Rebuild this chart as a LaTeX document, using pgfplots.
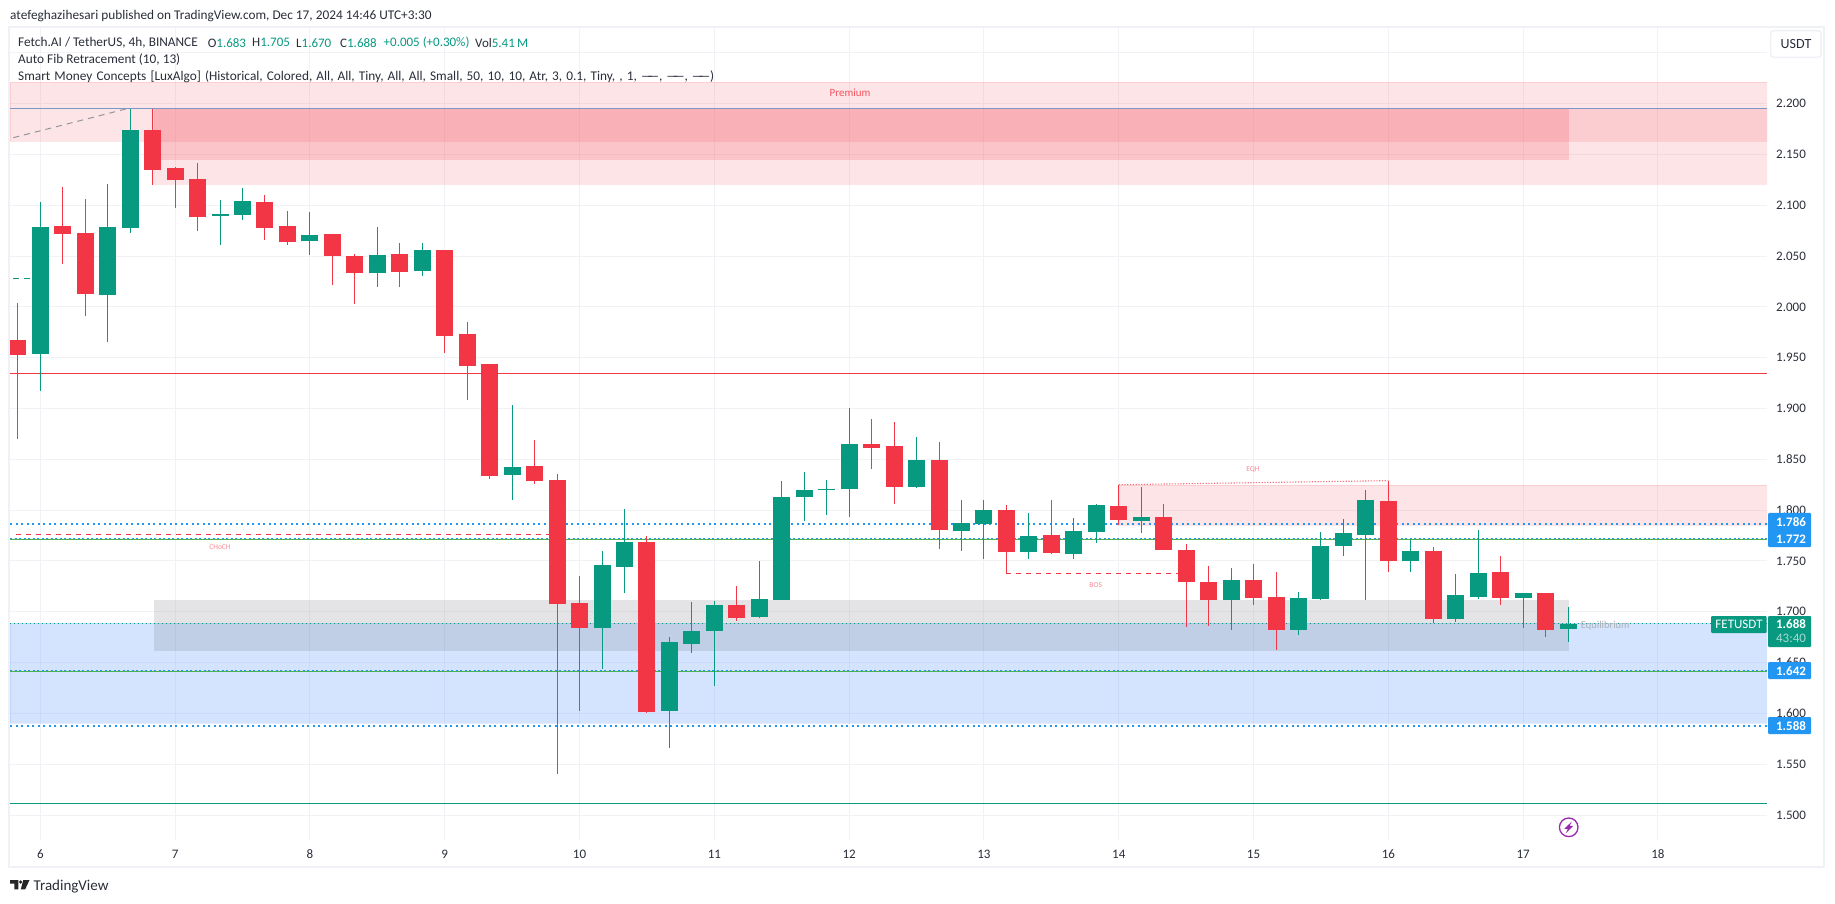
\documentclass[border=0pt]{standalone}
\usepackage{pgfplots}
\usepackage{pgfplotstable}
\pgfplotsset{compat=1.18}
\usepackage{fontspec}
\setmainfont{Carlito}
\definecolor{tvred}{HTML}{F23645}
\definecolor{tvgreen}{HTML}{089981}
\definecolor{tvblue}{HTML}{2196F3}
\definecolor{zoneblue}{HTML}{2979FF}
\definecolor{zonegray}{HTML}{787B86}
\definecolor{gridc}{HTML}{F1F2F5}
\definecolor{framec}{HTML}{F0F1F6}
\definecolor{ink}{HTML}{2A2E39}
\definecolor{fiblgreen}{HTML}{4CAF50}
\definecolor{pinktxt}{HTML}{F98C96}
\definecolor{boltc}{HTML}{9C27B0}
% i = bar index (6 bars a day, 0 = day 6); h = high, t = body top, b = body bottom, l = low
\pgfplotstableread{
i h t b l
-1 2.004 1.967 1.953 1.870
1 2.118 2.080 2.072 2.042
2 2.106 2.073 2.013 1.991
5 2.195 2.174 2.135 2.120
6 2.138 2.137 2.125 2.097
7 2.142 2.126 2.088 2.075
10 2.110 2.103 2.078 2.066
11 2.094 2.080 2.064 2.061
13 2.072 2.072 2.050 2.022
14 2.052 2.050 2.033 2.003
16 2.063 2.052 2.034 2.020
18 2.056 2.056 1.971 1.955
19 1.985 1.973 1.942 1.908
20 1.944 1.944 1.834 1.831
22 1.869 1.843 1.829 1.826
23 1.836 1.830 1.708 1.540
24 1.735 1.709 1.684 1.602
27 1.775 1.769 1.601 1.600
31 1.725 1.707 1.694 1.691
37 1.890 1.865 1.861 1.840
38 1.887 1.863 1.823 1.806
40 1.867 1.849 1.780 1.762
43 1.805 1.800 1.759 1.738
45 1.810 1.776 1.758 1.757
48 1.825 1.804 1.790 1.785
50 1.806 1.793 1.761 1.761
51 1.767 1.761 1.729 1.685
52 1.745 1.729 1.712 1.686
54 1.747 1.731 1.714 1.707
55 1.739 1.715 1.682 1.662
60 1.829 1.809 1.750 1.739
62 1.764 1.760 1.693 1.689
65 1.755 1.739 1.714 1.707
67 1.718 1.718 1.682 1.675
}\redbars
\pgfplotstableread{
i h t b l
0 2.103 2.079 1.954 1.917
3 2.121 2.079 2.012 1.965
4 2.195 2.174 2.078 2.073
8 2.105 2.091 2.089 2.061
9 2.117 2.104 2.090 2.085
12 2.093 2.071 2.065 2.051
15 2.079 2.051 2.033 2.020
17 2.063 2.056 2.035 2.030
21 1.903 1.842 1.835 1.810
25 1.760 1.746 1.684 1.644
26 1.801 1.769 1.744 1.718
28 1.675 1.670 1.602 1.566
29 1.710 1.681 1.668 1.659
30 1.711 1.707 1.681 1.627
32 1.750 1.713 1.695 1.694
33 1.829 1.813 1.712 1.712
34 1.838 1.820 1.813 1.789
35 1.830 1.821 1.820 1.795
36 1.900 1.865 1.821 1.793
39 1.872 1.849 1.823 1.822
41 1.810 1.787 1.779 1.760
42 1.810 1.800 1.786 1.752
44 1.797 1.775 1.759 1.752
46 1.792 1.779 1.757 1.752
47 1.806 1.805 1.778 1.768
49 1.823 1.793 1.789 1.777
53 1.743 1.731 1.712 1.682
56 1.719 1.714 1.682 1.677
57 1.778 1.765 1.713 1.712
58 1.791 1.777 1.765 1.755
59 1.820 1.810 1.776 1.712
61 1.771 1.760 1.750 1.739
63 1.737 1.716 1.693 1.690
64 1.780 1.738 1.715 1.713
66 1.718 1.718 1.714 1.684
68 1.705 1.688 1.683 1.670
}\greenbars
\begin{document}
\begin{tikzpicture}[x=1pt,y=1pt]
\useasboundingbox (0,0) rectangle (1835,903);
\fill[white] (0,0) rectangle (1835,903);
\begin{axis}[
  at={(10pt,63pt)},anchor=south west,
  scale only axis,width=1757pt,height=812pt,
  xmin=5.775,xmax=18.809,ymin=1.4754,ymax=2.2744,
  axis line style={draw=none},
  major tick length=0pt,
  xtick={6,7,8,9,10,11,12,13,14,15,16,17,18},
  ytick={1.5,1.55,1.6,1.65,1.7,1.75,1.8,1.85,1.9,1.95,2,2.05,2.1,2.15,2.2},
  extra y ticks={2.25},extra y tick labels={},
  extra tick style={major tick length=0pt,grid=major},
  yticklabel pos=right,
  grid=major,
  major grid style={color=gridc,line width=1pt},
  /pgf/number format/assume math mode=true,
  yticklabel style={/pgf/number format/fixed,/pgf/number format/fixed zerofill,/pgf/number format/precision=3,
     /pgf/number format/.cd,1000 sep={},/tikz/.cd,font=\fontsize{13}{15}\selectfont,text=ink,anchor=west,inner sep=0pt,xshift=9pt},
  xticklabel style={font=\fontsize{13}{15}\selectfont,text=ink,inner sep=0pt,anchor=center,yshift=-14pt},
  scaled y ticks=false,
]
% zones
\addplot[fill=zoneblue,fill opacity=.2,draw=zoneblue,draw opacity=.12] coordinates {(5.775,1.6885)(18.809,1.6885)(18.809,1.5905)(5.775,1.5905)} --cycle;
\addplot[fill=zonegray,fill opacity=.2,draw=none] coordinates {(6.84,1.7115)(17.34,1.7115)(17.34,1.6615)(6.84,1.6615)} --cycle;
\addplot[fill=tvred,fill opacity=.13,draw=tvred,draw opacity=.12] coordinates {(5.775,2.2213)(18.809,2.2213)(18.809,2.1635)(5.775,2.1635)} --cycle;
\addplot[fill=tvred,fill opacity=.13,draw=tvred,draw opacity=.12] coordinates {(6.84,2.195)(18.809,2.195)(18.809,2.1206)(6.84,2.1206)} --cycle;
\addplot[fill=tvred,fill opacity=.18,draw=none] coordinates {(6.84,2.195)(17.34,2.195)(17.34,2.1445)(6.84,2.1445)} --cycle;
\addplot[fill=tvred,fill opacity=.13,draw=tvred,draw opacity=.12] coordinates {(14,1.825)(18.809,1.825)(18.809,1.7855)(14,1.7855)} --cycle;
% levels
\addplot[color=zoneblue!45!gray!80!white,line width=1pt] coordinates {(5.775,2.195)(18.809,2.195)};
\addplot[color=zonegray!80!white,line width=1pt,dash pattern=on 6pt off 5pt] coordinates {(5.80,2.1665)(6.643,2.195)};
\addplot[color=tvgreen,line width=1pt,dash pattern=on 6pt off 5pt] coordinates {(5.80,2.028)(6,2.028)};
\addplot[color=tvred,line width=1pt] coordinates {(5.775,1.934)(18.809,1.934)};
\addplot[color=tvblue,line width=2pt,dash pattern=on 2pt off 3.5pt] coordinates {(5.775,1.786)(18.809,1.786)};
\addplot[color=fiblgreen,line width=1pt] coordinates {(5.775,1.771)(18.809,1.771)};
\addplot[color=tvblue,line width=1pt,dash pattern=on 2pt off 2.5pt] coordinates {(5.775,1.772)(18.809,1.772)};
\addplot[color=tvred,line width=1.1pt,dash pattern=on 5pt off 5pt] coordinates {(5.818,1.776)(9.833,1.776)};
\addplot[color=tvgreen,line width=1pt,dash pattern=on 1.3pt off 2.7pt] coordinates {(5.775,1.688)(18.809,1.688)};
\addplot[color=fiblgreen,line width=1pt] coordinates {(5.775,1.641)(18.809,1.641)};
\addplot[color=tvblue,line width=1pt,dash pattern=on 2pt off 2.5pt] coordinates {(5.775,1.642)(18.809,1.642)};
\addplot[color=tvblue,line width=2pt,dash pattern=on 2pt off 3.5pt] coordinates {(5.775,1.588)(18.809,1.588)};
\addplot[color=tvgreen,line width=1.3pt] coordinates {(5.775,1.5115)(18.809,1.5115)};
\addplot[color=tvred,line width=1.1pt,dash pattern=on 5pt off 5pt] coordinates {(13.167,1.738)(14.5,1.738)};
\addplot[color=tvred!70!white,line width=1.1pt,dash pattern=on 1.3pt off 1.5pt] coordinates {(14,1.825)(16,1.829)};
% candles: wicks
\addplot[draw=none,no markers,error bars/.cd,y dir=both,y explicit,error mark=none,error bar style={color=tvred,line width=1pt}]
  table[x expr=6+\thisrow{i}/6,y=t,y error plus expr=\thisrow{h}-\thisrow{t},y error minus expr=\thisrow{t}-\thisrow{l}] {\redbars};
\addplot[draw=none,no markers,error bars/.cd,y dir=both,y explicit,error mark=none,error bar style={color=tvgreen,line width=1pt}]
  table[x expr=6+\thisrow{i}/6,y=t,y error plus expr=\thisrow{h}-\thisrow{t},y error minus expr=\thisrow{t}-\thisrow{l}] {\greenbars};
% candles: bodies
\addplot[draw=none,no markers,error bars/.cd,y dir=minus,y explicit,error mark=none,error bar style={color=tvred,line width=17pt}]
  table[x expr=6+\thisrow{i}/6,y=t,y error minus expr=\thisrow{t}-\thisrow{b}] {\redbars};
\addplot[draw=none,no markers,error bars/.cd,y dir=minus,y explicit,error mark=none,error bar style={color=tvgreen,line width=17pt}]
  table[x expr=6+\thisrow{i}/6,y=t,y error minus expr=\thisrow{t}-\thisrow{b}] {\greenbars};
\end{axis}
% overlay in picture pixels, y downwards
\begin{scope}[x=1pt,y=-1pt,yshift=903pt,every node/.style={inner sep=0pt,text=ink}]
\draw[framec,line width=2pt] (9,27) rectangle (1824,867);
\def\tf{\fontsize{13}{15}\selectfont}
\def\hf{\fontsize{13.3}{15}\selectfont}
\node[anchor=west,font=\hf] at (10,16) {atefeghazihesari published on TradingView.com, Dec 17, 2024 14:46 UTC+3:30};
\node[anchor=west,font=\hf] at (18,42.7) {Fetch.AI / TetherUS, 4h, BINANCE};
\node[anchor=west,font=\tf] at (207.6,42.7) {O\textcolor{tvgreen}{1.683}};
\node[anchor=west,font=\tf] at (252,42.7) {H\textcolor{tvgreen}{1.705}};
\node[anchor=west,font=\tf] at (296,42.7) {L\textcolor{tvgreen}{1.670}};
\node[anchor=west,font=\tf] at (340,42.7) {C\textcolor{tvgreen}{1.688}};
\node[anchor=west,font=\tf,text=tvgreen] at (383.5,42.7) {+0.005 (+0.30\%)};
\node[anchor=west,font=\tf] at (475,42.7) {Vol\textcolor{tvgreen}{5.41\,M}};
\node[anchor=west,font=\hf] at (18,60) {Auto Fib Retracement (10, 13)};
\node[anchor=west,font=\hf] at (18,77) {\spaceskip=4.1pt Smart Money Concepts [LuxAlgo] (Historical, Colored, All, All, Tiny, All, All, Small, 50, 10, 10, Atr, 3, 0.1, Tiny, , 1, —\kern-6pt—, —\kern-6pt—, —\kern-6pt—)};
% zone texts
\node[font=\fontsize{11}{12}\selectfont,text=tvred!85!white] at (850,92.5) {Premium};
\node[font=\fontsize{7.5}{9}\selectfont,text=pinktxt] at (220,546.7) {CHoCH};
\node[font=\fontsize{7.5}{9}\selectfont,text=pinktxt] at (1095.7,584.7) {BOS};
\node[font=\fontsize{7.5}{9}\selectfont,text=pinktxt] at (1253,469.3) {EQH};
\node[anchor=west,font=\fontsize{10.5}{12}\selectfont,text=zonegray!60!white] at (1580.7,626) {Equilibrium};
% USDT button
\draw[framec,fill=white,line width=1.5pt,rounded corners=3pt] (1770.7,30.7) rectangle (1821,57.3);
\node[font=\fontsize{14}{16}\selectfont] at (1796,44) {USDT};
% price boxes
\fill[tvblue,rounded corners=1pt] (1768,513) rectangle (1811,547);
\node[font=\bfseries\tf,text=white] at (1791,521.7) {1.786};
\node[font=\bfseries\tf,text=white] at (1791,539) {1.772};
\fill[tvblue,rounded corners=1pt] (1768,662) rectangle (1811,679);
\node[font=\bfseries\tf,text=white] at (1791,670.7) {1.642};
\fill[tvblue,rounded corners=1pt] (1768,717) rectangle (1811,734);
\node[font=\bfseries\tf,text=white] at (1791,725.7) {1.588};
\fill[tvgreen,rounded corners=1pt] (1711,616) rectangle (1766.5,633);
\node[font=\tf,text=white] at (1739,624.5) {FETUSDT};
\fill[tvgreen,rounded corners=1pt] (1768,616) rectangle (1811,647);
\node[font=\bfseries\tf,text=white] at (1791,624.3) {1.688};
\node[font=\tf,text=tvgreen!35!white] at (1791,638.7) {43:40};
% lightning icon
\draw[color=boltc,fill=white,line width=1.3pt] (1568.7,827.3) circle[radius=9.3];
\fill[boltc] (1571.8,821.5)--(1564.3,828.8)--(1567.8,828.8)--(1565.8,833.3)--(1573.2,825.8)--(1569.6,825.8)--cycle;
% TradingView logo
\fill[black!85] (10,880)--(18.3,880)--(18.3,889.3)--(14.4,889.3)--(14.4,883.6)--(10,883.6)--cycle;
\fill[black!85] (20.6,882) circle[radius=1.8];
\fill[black!85] (23.3,880)--(29.5,880)--(25.2,889.3)--(20.8,889.3)--cycle;
\node[anchor=west,font=\fontsize{15}{17}\selectfont] at (33.5,886.5) {TradingView};
\end{scope}
\end{tikzpicture}
\end{document}
